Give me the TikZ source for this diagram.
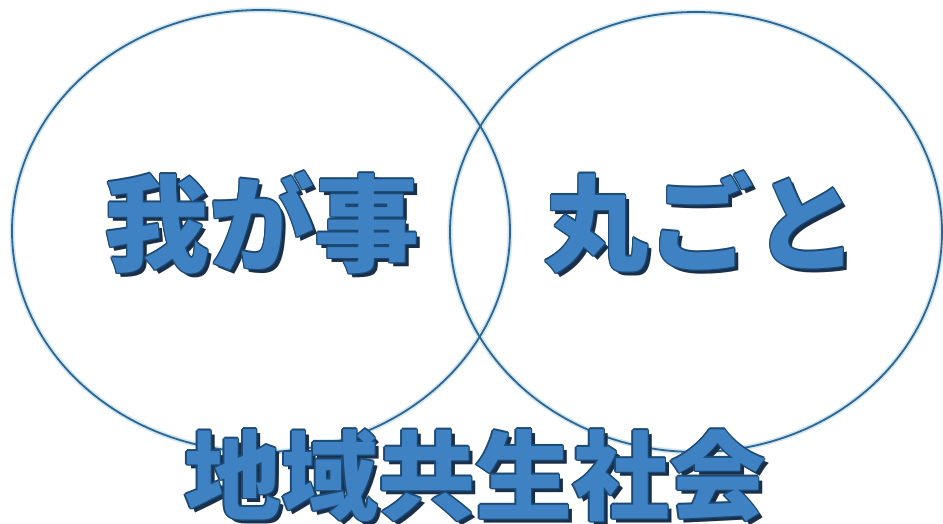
\documentclass[tikz,border=0pt]{standalone}
\usepackage{fontspec}
\newfontfamily\cjk{Noto Sans CJK JP}
\usetikzlibrary{calc}
\definecolor{ringcol}{HTML}{2F6690}
\definecolor{glowcol}{HTML}{CFE6F3}
\definecolor{textfill}{HTML}{3F82C4}
\definecolor{textline}{HTML}{1C4A74}
\definecolor{shadowcol}{HTML}{1A2F4A}
\tikzset{
  ring/.style={draw=ringcol, line width=1.8pt},
  ringglow/.style={draw=glowcol, line width=5pt},
  bigword/.style={font=\cjk\bfseries\fontsize{#1}{#1}\selectfont, inner sep=0pt, anchor=base},
}
\newcommand\fancyword[4]{% name, x, y, size, text via #4
  \node[bigword=#4, text=shadowcol] at (#2+4,#3+4) {\wordtext};
  \foreach \dx/\dy in {1.4/0,-1.4/0,0/1.4,0/-1.4,1/1,1/-1,-1/1,-1/-1}
    \node[bigword=#4, text=textline] at (#2+\dx,#3+\dy) {\wordtext};
  \node[bigword=#4, text=textfill] (#1) at (#2,#3) {\wordtext};
}
\begin{document}
\begin{tikzpicture}[x=1pt,y=-1pt]
\useasboundingbox (0,0) rectangle (943,524);
\fill[white] (0,0) rectangle (943,524);
% rings
\draw[ringglow] (261,231) ellipse [x radius=249, y radius=221];
\draw[ringglow] (696,232) ellipse [x radius=246, y radius=220];
\draw[ring] (261,231) ellipse [x radius=249, y radius=221];
\draw[ring] (696,232) ellipse [x radius=246, y radius=220];
% words
\def\wordtext{我が事}
\fancyword{w1}{262}{263}{105}
\def\wordtext{丸ごと}
\fancyword{w2}{701}{263}{105}
\def\wordtext{地域共生社会}
\fancyword{w3}{475}{512}{97}
\end{tikzpicture}
\end{document}
